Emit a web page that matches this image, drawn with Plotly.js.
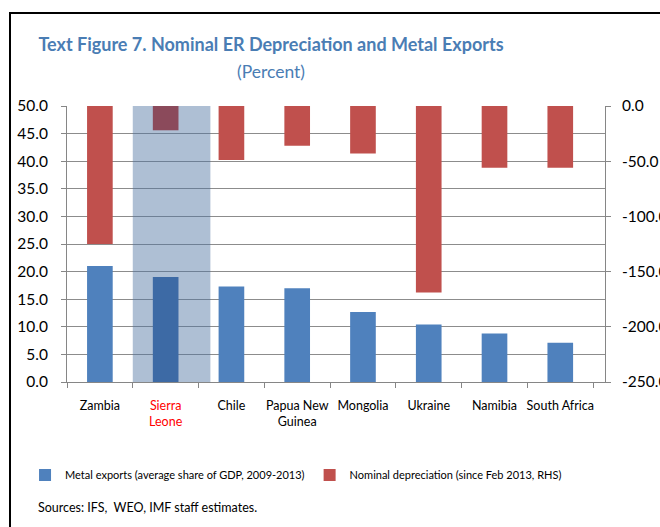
<!DOCTYPE html>
<html>
<head>
<meta charset="utf-8">
<script src="https://cdn.plot.ly/plotly-3.0.1.min.js"></script>
<style>html,body{margin:0;padding:0;background:#fff;}#chart{width:660px;height:527px;}</style>
</head>
<body>
<div id="chart"></div>
<script>
var categories = ["Zambia", "Sierra<br>Leone", "Chile", "Papua New<br>Guinea", "Mongolia", "Ukraine", "Namibia", "South Africa"];
var metalExports = [21.0, 19.0, 17.3, 17.0, 12.7, 10.4, 8.8, 7.1];
var depreciation = [-125, -22, -49, -36, -43, -169, -56, -56];
var highlight = [null, 50, null, null, null, null, null, null];
var leftTicks = [0, 5, 10, 15, 20, 25, 30, 35, 40, 45, 50];
var rightTicks = [0, -50, -100, -150, -200, -250];
var rightTickText = ["0.0", "-50.0", "-100.0", "-150.0", "-200.0", "-250.0"];
var tickColors = ["#000", "#ff0000", "#000", "#000", "#000", "#000", "#000", "#000"];

var FONT = "Lato, sans-serif";
var blueColors = metalExports.map(function(v, i){ return i === 1 ? "#3d6aa5" : "#4f81bd"; });
var redColors = depreciation.map(function(v, i){ return i === 1 ? "#8b4a5b" : "#c0504d"; });

var tickText = categories.map(function(c, i){
  return '<span style="color:' + tickColors[i] + '">' + c + '</span>';
});

var traces = [
  {type: "bar", x: categories, y: highlight, yaxis: "y", width: 1.18, offset: -0.5,
   marker: {color: "rgba(75,113,159,0.45)"}, showlegend: false, hoverinfo: "skip"},
  {type: "bar", name: "Metal exports (average share of GDP, 2009-2013)", x: categories, y: metalExports,
   yaxis: "y", width: 0.39, marker: {color: blueColors}},
  {type: "bar", name: "Nominal depreciation (since Feb 2013, RHS)", x: categories, y: depreciation,
   yaxis: "y2", width: 0.39, marker: {color: redColors}}
];

var layout = {
  width: 660, height: 527,
  margin: {l: 67, r: 55, t: 106, b: 145},
  paper_bgcolor: "#fff", plot_bgcolor: "#fff",
  barmode: "overlay",
  font: {family: FONT, size: 14, color: "#000"},
  title: {text: "<b>Text Figure 7. Nominal ER Depreciation and Metal Exports</b>",
          font: {family: FONT, size: 18, color: "#4a7db4"},
          x: 271/660, xanchor: "center", y: 1 - 45/527, yanchor: "middle"},
  xaxis: {type: "category", tickmode: "array", tickvals: categories, ticktext: tickText,
          tickangle: 0,
          showline: true, linecolor: "#868686", linewidth: 1,
          ticks: "outside", tickson: "boundaries", ticklen: 5, tickcolor: "#868686",
          showgrid: false, tickfont: {size: 12.5}, ticklabelstandoff: 12, fixedrange: true},
  yaxis: {range: [0, 50], tickvals: leftTicks, tickformat: ".1f",
          showgrid: true, gridcolor: "#8c8c8c", gridwidth: 1,
          showline: true, linecolor: "#868686", ticks: "outside", ticklen: 5, tickcolor: "#868686",
          zeroline: false, tickfont: {size: 15.5}, ticklabelstandoff: 10},
  yaxis2: {range: [-250, 0], overlaying: "y", side: "right", tickvals: rightTicks, ticktext: rightTickText,
           showgrid: false, showline: true, linecolor: "#868686", ticks: "outside", ticklen: 5, tickcolor: "#868686",
           zeroline: false, tickfont: {size: 15.5}, ticklabelstandoff: 8},
  legend: {orientation: "h", x: -0.078, xanchor: "left", y: -0.337, yanchor: "middle",
           font: {size: 11}, itemwidth: 30, traceorder: "normal"},
  annotations: [
    {text: "(Percent)", xref: "paper", yref: "paper", x: (271-67)/538, y: (382-71)/276,
     xanchor: "center", yanchor: "middle", showarrow: false, font: {family: FONT, size: 17.5, color: "#4a7db4"}},
    {text: "Sources: IFS,  WEO, IMF staff estimates.", xref: "paper", yref: "paper", x: (36-67)/538, y: (382-507)/276,
     xanchor: "left", yanchor: "middle", showarrow: false, font: {family: FONT, size: 12.5, color: "#000"}}
  ],
  shapes: [
    {type: "rect", xref: "paper", yref: "paper", x0: (10-67)/538, x1: (664-67)/538, y0: (382-540)/276, y1: (382-13)/276,
     line: {color: "#000", width: 2}, fillcolor: "rgba(0,0,0,0)"}
  ]
};

Plotly.newPlot("chart", traces, layout, {staticPlot: true, displayModeBar: false});
</script>
</body>
</html>
